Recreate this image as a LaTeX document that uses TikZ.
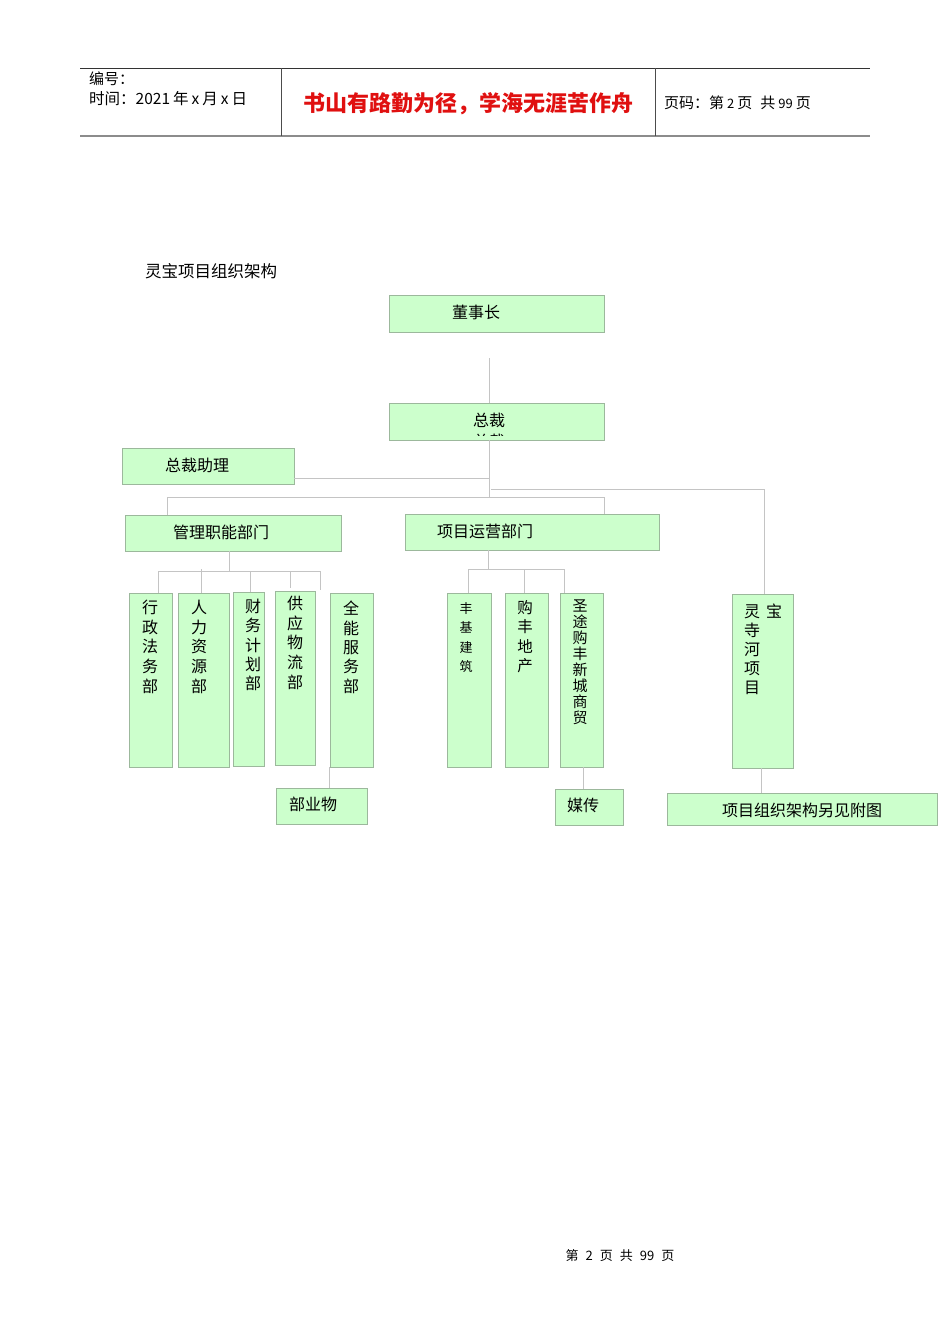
\documentclass[tikz,border=0pt]{standalone}
\usepackage{fontspec}
\setmainfont{Noto Sans CJK SC}
\usetikzlibrary{fit}
\definecolor{boxfill}{HTML}{CCFFCC}
\definecolor{boxline}{HTML}{9CB89C}
\definecolor{connc}{HTML}{C4C4C4}
\definecolor{redtxt}{HTML}{E01010}
\tikzset{
  box/.style={draw=boxline, fill=boxfill, line width=0.9pt, inner sep=0pt},
  conn/.style={draw=connc, line width=0.9pt},
  lbl/.style={inner sep=0pt, font=\fontsize{16}{16}\selectfont},
  vlbl/.style={inner sep=0pt, anchor=north, align=center, font=\fontsize{16}{19.6}\selectfont},
  hdr/.style={inner sep=0pt, anchor=west, font=\fontsize{15}{15}\selectfont}
}
\begin{document}
\begin{tikzpicture}[x=1pt,y=-1pt]
\useasboundingbox[fill=white] (0,0) rectangle (950,1344);
% header
\draw[draw=black!80, line width=0.8pt] (80,68) -- (870,68);
\draw[draw=black!45, line width=1.6pt] (80,136) -- (870,136);
\draw[draw=black!70, line width=0.8pt] (281,68) -- (281,136);
\draw[draw=black!70, line width=0.8pt] (655,68) -- (655,136);
\node[hdr] (h1) at (89,79) {编号：};
\node[hdr, font=\fontsize{15.5}{15.5}\selectfont] (h2) at (89,99) {时间：2021\hspace{3pt}年\hspace{3pt}x\hspace{3pt}月\hspace{3pt}x\hspace{3pt}日};
\node[inner sep=0pt, text=redtxt, font=\fontsize{22}{22}\selectfont\bfseries] (h3) at (468,104) {书山有路勤为径，学海无涯苦作舟};
\node[hdr] (h4) at (664,103) {页码：第\hspace{3pt}{\fontsize{13}{13}\selectfont 2}\hspace{3pt}页\hspace{8pt}共\hspace{3pt}{\fontsize{13}{13}\selectfont 99}\hspace{3pt}页};
% title
\node[inner sep=0pt, anchor=west, font=\fontsize{16.5}{16.5}\selectfont] (title) at (145,271) {灵宝项目组织架构};
% boxes
\node[box, fit={(389,295) (604,332)}] (dsz) {};
\node[box, fit={(389,403) (604,440)}] (zc) {};
\node[box, fit={(122,448) (294,484)}] (zczl) {};
\node[box, fit={(125,515) (341,551)}] (gl) {};
\node[box, fit={(405,514) (659,550)}] (xm) {};
\node[box, fit={(129,593) (172,767)}] (b1) {};
\node[box, fit={(178,593) (229,767)}] (b2) {};
\node[box, fit={(233,592) (264,766)}] (b3) {};
\node[box, fit={(275,591) (315,765)}] (b4) {};
\node[box, fit={(330,593) (373,767)}] (b5) {};
\node[box, fit={(276,788) (367,824)}] (wy) {};
\node[box, fit={(447,593) (491,767)}] (c1) {};
\node[box, fit={(505,593) (548,767)}] (c2) {};
\node[box, fit={(560,593) (603,767)}] (c3) {};
\node[box, fit={(555,789) (623,825)}] (mc) {};
\node[box, fit={(732,594) (793,768)}] (lb) {};
\node[box, fit={(667,793) (937,825)}] (fj) {};
% labels
\node[lbl] (tdsz) at (476,312) {董事长};
\node[lbl] (tzc) at (489,420) {总裁};
\begin{scope}
\clip (440,431) rectangle (540,435.5);
\node[lbl] (tzc2) at (489,441) {总裁};
\end{scope}
\node[lbl] (tzczl) at (197,465) {总裁助理};
\node[lbl] (tgl) at (221,532) {管理职能部门};
\node[lbl] (txm) at (485,531) {项目运营部门};
\node[vlbl] (tb1) at (150,600) {行\\政\\法\\务\\部};
\node[vlbl] (tb2) at (199,600) {人\\力\\资\\源\\部};
\node[vlbl, font=\fontsize{16}{19.3}\selectfont] (tb3) at (253,599) {财\\务\\计\\划\\部};
\node[vlbl, font=\fontsize{16}{19.6}\selectfont] (tb4) at (295,596) {供\\应\\物\\流\\部};
\node[vlbl, font=\fontsize{16}{19.3}\selectfont] (tb5) at (351,601) {全\\能\\服\\务\\部};
\node[lbl] (twy) at (313,804) {部业物};
\node[vlbl, font=\fontsize{13}{19.5}\selectfont] (tc1) at (466,602) {丰\\基\\建\\筑};
\node[vlbl, font=\fontsize{15.5}{19.5}\selectfont] (tc2) at (525,600) {购\\丰\\地\\产};
\node[vlbl, font=\fontsize{15}{15.9}\selectfont] (tc3) at (580,600) {圣\\途\\购\\丰\\新\\城\\商\\贸};
\node[lbl] (tmc) at (583,805) {媒传};
\node[vlbl, align=left, anchor=north west, font=\fontsize{16}{19}\selectfont] (tlb) at (744,604) {灵\hspace{6pt}宝\\寺\\河\\项\\目};
\node[lbl] (tfj) at (802,810) {项目组织架构另见附图};
% connectors
\coordinate (c0) at (489,358);
\coordinate (sp) at (489,497);
\draw[conn] (c0) -- (c0 |- zc.north);
\draw[conn] (zc.south -| c0) -- (sp);
\draw[conn] ([yshift=6pt]zczl.south east) -- ([yshift=6pt]zczl.south east -| c0);
\coordinate (rb) at (491,489);
\draw[conn] (rb) -- (764,489) -- (764,489 |- lb.north);
\draw[conn] (gl.north -| 167,0) -- (167,497) -- (604,497) -- (604,497 |- xm.north);
% management subtree
\coordinate (g0) at (229,571);
\draw[conn] (gl.south -| g0) -- (g0);
\draw[conn] (158,571) -- (320,571);
\draw[conn] (158,571) -- (158,571 |- b1.north);
\draw[conn] (201,569) -- (201,569 |- b2.north);
\draw[conn] (250,571) -- (250,571 |- b3.north);
\draw[conn] (290,571) -- (290,588);
\draw[conn] (320,571) -- (320,590);
\draw[conn] (b5.south -| 329,0) -- (329,0 |- wy.north);
% project subtree
\coordinate (x0) at (488,569);
\draw[conn] (xm.south -| x0) -- (x0);
\draw[conn] (468,569) -- (564,569);
\draw[conn] (468,569) -- (468,569 |- c1.north);
\draw[conn] (524,569) -- (524,569 |- c2.north);
\draw[conn] (564,569) -- (564,569 |- c3.north);
\draw[conn] (c3.south -| 583,0) -- (583,0 |- mc.north);
\draw[conn] (lb.south -| 761,0) -- (761,0 |- fj.north);
% footer
\node[inner sep=0pt, font=\fontsize{13}{13}\selectfont] (foot) at (620,1256) {第\hspace{7pt}2\hspace{7pt}页\hspace{7pt}共\hspace{7pt}99\hspace{7pt}页};
\end{tikzpicture}
\end{document}
